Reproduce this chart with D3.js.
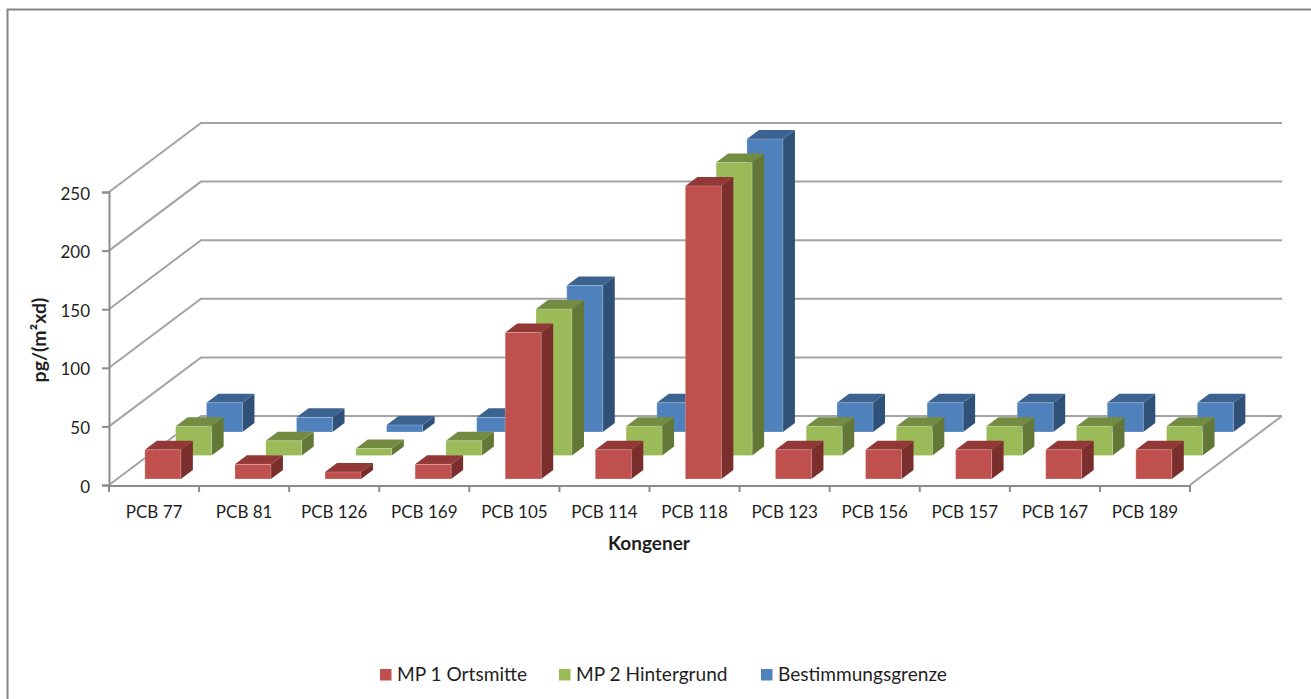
<!DOCTYPE html>
<html>
<head>
<meta charset="utf-8">
<script src="https://cdn.jsdelivr.net/npm/d3@7"></script>
<style>
  html, body { margin: 0; padding: 0; background: #fff; }
  svg { display: block; }
  text { font-family: Lato, "Open Sans", sans-serif; fill: #1f1f1f; }
</style>
</head>
<body>
<svg id="chart" width="1311" height="699"></svg>
<script>
// PCB deposition per congener, pg/(m²xd)
const congeners = ["PCB 77", "PCB 81", "PCB 126", "PCB 169", "PCB 105", "PCB 114",
                   "PCB 118", "PCB 123", "PCB 156", "PCB 157", "PCB 167", "PCB 189"];
const seriesNames = ["MP 1 Ortsmitte", "MP 2 Hintergrund", "Bestimmungsgrenze"];
const mp1Ortsmitte = [25, 12.5, 6, 12.5, 125, 25, 250, 25, 25, 25, 25, 25];
const mp2Hintergrund = [25, 12.5, 6, 12.5, 125, 25, 250, 25, 25, 25, 25, 25];
const bestimmungsgrenze = [25, 12.5, 6, 12.5, 125, 25, 250, 25, 25, 25, 25, 25];
const yTicks = [0, 50, 100, 150, 200, 250];

const seriesValues = [mp1Ortsmitte, mp2Hintergrund, bestimmungsgrenze];
const palette = [
  { front: "#c0504d", top: "#923836", side: "#7a2f2d" },
  { front: "#9bbb59", top: "#748c42", side: "#637737" },
  { front: "#4f81bd", top: "#3c628f", side: "#2f5077" }
];

const svg = d3.select("#chart");
const gridColor = "#a3a3a3";
const axisColor = "#8c8c8c";

// Front plane of the oblique box and the shift to its back wall
const x = d3.scaleBand().domain(congeners).range([109, 1190]);
const y = d3.scaleLinear().domain([0, 250]).range([485, 192]);
const wall = { dx: 92, dy: -69 };

// Position of each series on the floor, and the extrusion of one bar
const depth = d3.scalePoint().domain(seriesNames).range([-6, -53]);
const floorSlope = -1.31;
const extrude = { dx: 12, dy: -9 };
const barWidth = 36;
const barInset = 28;

// Outer chart frame: top and left edges reach the image border
svg.append("path")
  .attr("d", "M7.5,699V9.5H1311")
  .attr("fill", "none").attr("stroke", "#868686").attr("stroke-width", 2);

// Back wall gridlines with their diagonals on the side wall
const grid = svg.append("g").attr("fill", "none")
  .attr("stroke", gridColor).attr("stroke-width", 2);
grid.selectAll("path").data(yTicks).join("path")
  .attr("d", d => {
    const fy = y(d);
    return `M${x.range()[0]},${fy}L${x.range()[0] + wall.dx},${fy + wall.dy}H${x.range()[1] + wall.dx}`;
  });

// Right edge of the floor
grid.append("path")
  .attr("d", `M${x.range()[1]},${y(0)}L${x.range()[1] + wall.dx},${y(0) + wall.dy}`);

// Bars are painted back to front so nearer boxes cover farther ones
const bars = [];
seriesNames.forEach((name, s) => {
  congeners.forEach((c, i) => bars.push({ name, s, c, value: seriesValues[s][i] }));
});
bars.sort((a, b) => b.s - a.s);

const barGroups = svg.append("g").selectAll("g").data(bars).join("g");

function barGeometry(d) {
  const fy = depth(d.name);
  const x0 = x(d.c) + barInset + fy * floorSlope;
  const x1 = x0 + barWidth;
  const yBase = y(0) + fy;
  const yTop = yBase - (y(0) - y(d.value));
  return { x0, x1, yBase, yTop };
}

barGroups.append("path")
  .attr("fill", d => palette[d.s].side)
  .attr("d", d => {
    const g = barGeometry(d);
    return `M${g.x1},${g.yTop}l${extrude.dx},${extrude.dy}V${g.yBase + extrude.dy}L${g.x1},${g.yBase}Z`;
  });
barGroups.append("path")
  .attr("fill", d => palette[d.s].top)
  .attr("d", d => {
    const g = barGeometry(d);
    return `M${g.x0},${g.yTop}l${extrude.dx},${extrude.dy}H${g.x1 + extrude.dx}L${g.x1},${g.yTop}Z`;
  });
// Front face with a faint light bevel along its edge
barGroups.append("rect")
  .attr("fill", d => palette[d.s].front)
  .attr("stroke", "#ffffff").attr("stroke-opacity", 0.22).attr("stroke-width", 1)
  .attr("x", d => barGeometry(d).x0)
  .attr("y", d => barGeometry(d).yTop)
  .attr("width", barWidth)
  .attr("height", d => barGeometry(d).yBase - barGeometry(d).yTop);

// Value axis
const yAxis = svg.append("g")
  .attr("transform", `translate(${x.range()[0]},0)`)
  .call(d3.axisLeft(y).tickValues(yTicks).tickSize(7).tickPadding(12));
yAxis.selectAll("text").attr("font-size", 17).attr("dy", "0.42em")
  .style("font-family", "Lato, sans-serif");

// Category axis, ticks sit on the band edges
const xAxis = svg.append("g")
  .attr("transform", `translate(0,${y(0) + 1})`)
  .call(d3.axisBottom(x).tickSize(0).tickPadding(19.5));
xAxis.selectAll("text").attr("font-size", 17);
xAxis.selectAll("path").remove();
svg.append("g").attr("stroke", axisColor).attr("stroke-width", 2)
  .selectAll("line").data(congeners.concat([null])).join("line")
  .attr("x1", (d, i) => x.range()[0] + i * x.step())
  .attr("x2", (d, i) => x.range()[0] + i * x.step())
  .attr("y1", y(0)).attr("y2", y(0) + 7);

svg.selectAll(".domain, .tick line").attr("stroke", axisColor).attr("stroke-width", 2);
svg.append("line")
  .attr("x1", x.range()[0]).attr("x2", x.range()[1])
  .attr("y1", y(0) + 1).attr("y2", y(0) + 1)
  .attr("stroke", axisColor).attr("stroke-width", 2);

// Axis titles
svg.append("text")
  .attr("transform", "translate(46,340) rotate(-90)")
  .attr("text-anchor", "middle")
  .attr("font-size", 19.5).attr("font-weight", 700)
  .text("pg/(m²xd)");
svg.append("text")
  .attr("x", 649).attr("y", 550)
  .attr("text-anchor", "middle")
  .attr("font-size", 19).attr("font-weight", 700)
  .text("Kongener");

// Legend
const legendX = d3.scaleOrdinal().domain(seriesNames).range([380, 559, 761]);
const legend = svg.append("g").selectAll("g").data(seriesNames).join("g")
  .attr("transform", d => `translate(${legendX(d)},669)`);
legend.append("rect")
  .attr("width", 11.5).attr("height", 11.5)
  .attr("fill", (d, i) => palette[i].front);
legend.append("text")
  .attr("x", 17).attr("y", 11.5)
  .attr("font-size", 19.1)
  .text(d => d);
</script>
</body>
</html>
